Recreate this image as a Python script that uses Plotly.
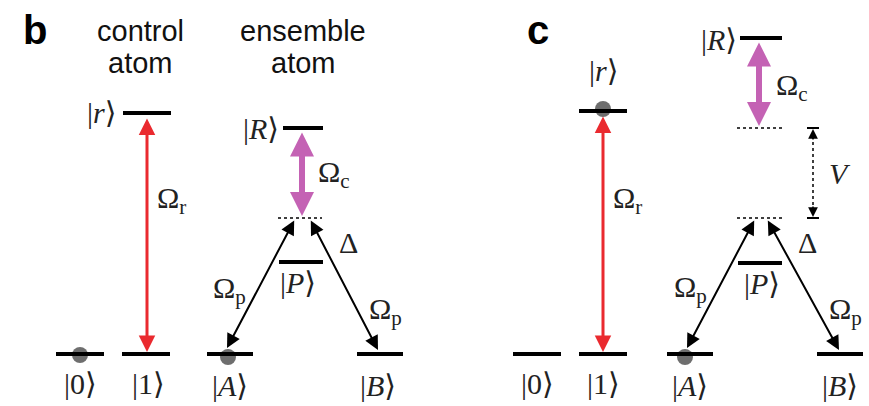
import plotly.graph_objects as go

# ---------------- data: energy levels (panel, label, x-centre, energy-height, half-width) -------------
level_panel = ["b", "b", "b", "b", "b", "b", "b", "c", "c", "c", "c", "c", "c", "c"]
level_label = ["|0⟩", "|1⟩", "|r⟩", "|A⟩", "|B⟩", "|P⟩", "|R⟩",
               "|0⟩", "|1⟩", "|r⟩", "|A⟩", "|B⟩", "|P⟩", "|R⟩"]
level_x = [80, 146, 147, 230, 380, 301, 303, 537, 603, 603, 690, 840, 760, 761]
level_y = [354, 354, 113, 354, 354, 262, 128, 354, 354, 111, 354, 354, 263, 38]
level_hw = [24, 24, 24, 23, 23, 22, 20, 24, 24, 24, 23, 23, 22, 21]

# virtual (dotted) levels
virt_x = [300, 761, 761]
virt_y = [218, 218, 128]
virt_hw = [22, 24, 24]

# populated states (grey dots)
pop_x = [80, 228, 603, 685]
pop_y = [355, 357, 109, 357]

# couplings: (x0, y0, x1, y1) tips
red_arrows = [(147, 117, 147, 352), (603, 115, 603, 352)]
mag_arrows = [(302, 131, 302, 216), (759, 41, 759, 126)]
blk_arrows = [(295, 219, 227, 348), (310, 219, 378, 350),
              (755, 219, 687, 348), (767, 219, 839, 350)]

fig = go.Figure()
shapes = []
annotations = []

# grey population dots (below the level lines)
for x, y in zip(pop_x, pop_y):
    shapes.append(dict(type="circle", xref="x", yref="y", x0=x - 8, x1=x + 8, y0=y - 8, y1=y + 8,
                       fillcolor="rgba(85,85,85,0.85)", line=dict(width=0), layer="above"))

# level lines
for x, y, hw in zip(level_x, level_y, level_hw):
    shapes.append(dict(type="line", xref="x", yref="y", x0=x - hw, x1=x + hw, y0=y, y1=y,
                       line=dict(color="black", width=4), layer="above"))

# virtual levels
for x, y, hw in zip(virt_x, virt_y, virt_hw):
    shapes.append(dict(type="line", xref="x", yref="y", x0=x - hw, x1=x + hw, y0=y, y1=y,
                       line=dict(color="black", width=1.5, dash="dot"), layer="above"))

# V interaction shift (dotted with caps)
vx, vtop, vbot = 813, 128, 218
shapes.append(dict(type="line", xref="x", yref="y", x0=vx, x1=vx, y0=vtop + 8, y1=vbot - 8,
                   line=dict(color="black", width=1.5, dash="dot")))
for yy in (vtop, vbot):
    shapes.append(dict(type="line", xref="x", yref="y", x0=vx - 6, x1=vx + 6, y0=yy, y1=yy,
                       line=dict(color="black", width=2)))
annotations.append(dict(x=vx, y=vtop + 1, ax=vx, ay=vtop + 13, xref="x", yref="y", axref="x", ayref="y",
                        showarrow=True, arrowhead=2, arrowwidth=1.5, arrowsize=1.3, arrowcolor="black", text=""))
annotations.append(dict(x=vx, y=vbot - 1, ax=vx, ay=vbot - 13, xref="x", yref="y", axref="x", ayref="y",
                        showarrow=True, arrowhead=2, arrowwidth=1.5, arrowsize=1.3, arrowcolor="black", text=""))


def arrow(a, color, width, size):
    x0, y0, x1, y1 = a
    annotations.append(dict(x=x1, y=y1, ax=x0, ay=y0, xref="x", yref="y", axref="x", ayref="y",
                            showarrow=True, arrowhead=2, startarrowhead=2, arrowside="end+start",
                            arrowwidth=width, arrowsize=size, startarrowsize=size,
                            arrowcolor=color, text=""))


for a in red_arrows:
    arrow(a, "#ea2a2f", 3, 1.1)
for a in mag_arrows:
    arrow(a, "#c462b4", 6, 0.8)
for a in blk_arrows:
    arrow(a, "black", 2, 1.4)

SANS = "Liberation Sans, Arial, sans-serif"
SERIF = "Liberation Serif, DejaVu Serif, serif"


def text(x, y, s, size=26, family=SERIF, color="#222"):
    annotations.append(dict(x=x, y=y, xref="x", yref="y", text=s, showarrow=False,
                            xanchor="center", yanchor="middle",
                            font=dict(family=family, size=size, color=color)))


def ket(s):
    return "|<i>" + s[1:-1] + "</i>⟩"


# panel letters and headers
text(35, 30, "<b>b</b>", 40, SANS, "black")
text(538, 30, "<b>c</b>", 40, SANS, "black")
text(140, 31, "control", 29, SANS, "#111")
text(140, 63, "atom", 29, SANS, "#111")
text(303, 31, "ensemble", 29, SANS, "#111")
text(303, 63, "atom", 29, SANS, "#111")

# ket labels
ket_pos = {
    ("b", "|0⟩"): (80, 383), ("b", "|1⟩"): (148, 383), ("b", "|r⟩"): (101, 112),
    ("b", "|A⟩"): (230, 385), ("b", "|B⟩"): (378, 385), ("b", "|P⟩"): (298, 282),
    ("b", "|R⟩"): (261, 128),
    ("c", "|0⟩"): (537, 383), ("c", "|1⟩"): (603, 383), ("c", "|r⟩"): (603, 70),
    ("c", "|A⟩"): (690, 385), ("c", "|B⟩"): (840, 385), ("c", "|P⟩"): (762, 283),
    ("c", "|R⟩"): (719, 39),
}
for p, lab in zip(level_panel, level_label):
    x, y = ket_pos[(p, lab)]
    s = lab if lab in ("|0⟩", "|1⟩") else ket(lab)
    text(x, y, s, 30)

# coupling labels
text(171, 200, "Ω<sub>r</sub>", 30)
text(627, 200, "Ω<sub>r</sub>", 30)
text(334, 174, "Ω<sub>c</sub>", 30)
text(792, 87, "Ω<sub>c</sub>", 30)
text(229, 290, "Ω<sub>p</sub>", 30)
text(385, 311, "Ω<sub>p</sub>", 30)
text(690, 289, "Ω<sub>p</sub>", 30)
text(845, 311, "Ω<sub>p</sub>", 30)
text(348, 242, "Δ", 30)
text(807, 242, "Δ", 30)
text(840, 173, "<i>V</i>", 30)

fig.update_layout(
    width=869, height=406, margin=dict(l=0, r=0, t=0, b=0),
    paper_bgcolor="white", plot_bgcolor="white", showlegend=False,
    xaxis=dict(range=[0, 869], visible=False, fixedrange=True),
    yaxis=dict(range=[406, 0], visible=False, fixedrange=True),
    shapes=shapes, annotations=annotations,
)
fig.write_html("out.html")
